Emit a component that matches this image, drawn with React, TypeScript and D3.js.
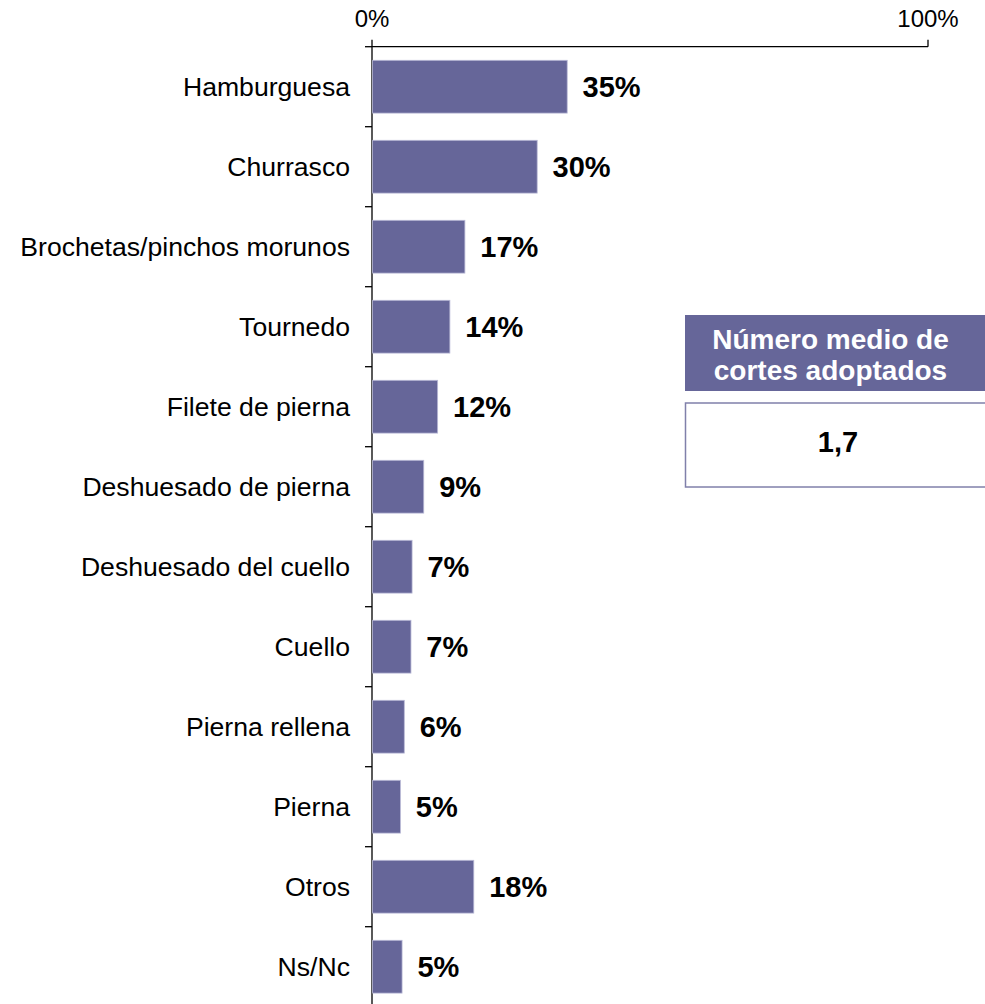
import React, { useEffect } from 'react'
import { scaleLinear, scaleBand, range } from 'd3'

// cortes de cordero adoptados (%)
const categories = [
  'Hamburguesa',
  'Churrasco',
  'Brochetas/pinchos morunos',
  'Tournedo',
  'Filete de pierna',
  'Deshuesado de pierna',
  'Deshuesado del cuello',
  'Cuello',
  'Pierna rellena',
  'Pierna',
  'Otros',
  'Ns/Nc',
]
const values = [35.0, 29.6, 16.6, 13.9, 11.7, 9.2, 7.1, 6.9, 5.7, 5.0, 18.2, 5.3]
const labels = ['35%', '30%', '17%', '14%', '12%', '9%', '7%', '7%', '6%', '5%', '18%', '5%']
const axisTicks = [0, 100]
const boxTitle = ['Número medio de', 'cortes adoptados']
const boxValue = '1,7'

const W = 985
const H = 1004
const FONT = "Arial, 'Liberation Sans', sans-serif"
const BAR = '#666699'

const App = () => {
  useEffect(() => {
    document.body.style.margin = '0'
    document.body.style.overflow = 'hidden'
  }, [])

  const x = scaleLinear().domain([0, 100]).range([372, 928])
  const y = scaleBand().domain(categories).range([46.7, 1006.7]).paddingInner(0.34).paddingOuter(0.17)
  const step = y.step()
  const y0 = 46.7

  return (
    <svg width={W} height={H} style={{ display: 'block' }} fontFamily={FONT}>
      {/* top axis */}
      <line x1={x(0)} x2={x(100)} y1={y0} y2={y0} stroke="#000" strokeWidth={1.3} />
      {axisTicks.map(t => (
        <g key={t}>
          <line x1={x(t)} x2={x(t)} y1={y0} y2={y0 - 7} stroke="#000" strokeWidth={1.3} />
          <text x={x(t)} y={27} textAnchor="middle" fontSize={24} fill="#000">{t}%</text>
        </g>
      ))}

      {/* vertical axis + band ticks */}
      <line x1={x(0)} x2={x(0)} y1={y0} y2={H} stroke="#000" strokeWidth={1.3} />
      {range(0, categories.length).map(i => (
        <line key={i} x1={x(0) - 7} x2={x(0)} y1={y0 + i * step} y2={y0 + i * step} stroke="#000" strokeWidth={1.3} />
      ))}

      {categories.map((c, i) => {
        const yy = y(c)!
        const cy = yy + y.bandwidth() / 2
        return (
          <g key={c}>
            <rect
              x={x(0) + 0.6}
              y={yy}
              width={x(values[i]) - x(0)}
              height={y.bandwidth()}
              fill={BAR}
              stroke="#b9b9d6"
              strokeWidth={0.8}
            />
            <text x={350} y={cy} dy="0.35em" textAnchor="end" fontSize={26.6} fill="#000">{c}</text>
            <text x={x(values[i]) + 16} y={cy} dy="0.35em" fontSize={29} fontWeight="bold" fill="#000">{labels[i]}</text>
          </g>
        )
      })}

      {/* info box */}
      <rect x={685} y={315} width={320} height={76} fill={BAR} />
      {boxTitle.map((t, i) => (
        <text key={t} x={830.5} y={349 + i * 31} textAnchor="middle" fontSize={28} fontWeight="bold" fill="#fff">{t}</text>
      ))}
      <rect x={685.5} y={403} width={320} height={84} fill="#fff" stroke="#8080aa" strokeWidth={1.5} />
      <text x={838} y={452} textAnchor="middle" fontSize={29} fontWeight="bold" fill="#000">{boxValue}</text>
    </svg>
  )
}

export default App
